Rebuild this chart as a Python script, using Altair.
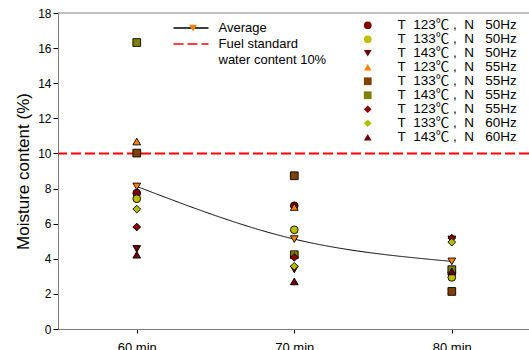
import altair as alt
import pandas as pd

times = [60, 70, 80]
temps = [123, 133, 143, 123, 133, 143, 123, 133, 143]
freqs = [50, 50, 50, 55, 55, 55, 55, 60, 60]
shapes = ["circle", "circle", "triangle-down", "triangle-up", "square", "square",
          "diamond", "diamond", "triangle-up"]
colors = ["#800000", "#bfbf00", "#6e0000", "#ff8000", "#804000", "#808000",
          "#8b0000", "#b4bf00", "#700000"]
v60 = [7.74, 7.42, 4.56, 10.68, 10.02, 16.32, 5.81, 6.83, 4.23]
v70 = [7.02, 5.65, 3.40, 6.95, 8.73, 4.23, 4.08, 3.57, 2.71]
v80 = [3.20, 2.94, 5.10, 3.30, 2.14, 3.38, 5.18, 4.95, 3.28]
average = [8.12, 5.12, 3.85]
standard = 10
kinds = ["Average", "Fuel standard", "water content 10%"]

NB = "\u00a0"
labels = []
for i, (t, f) in enumerate(zip(temps, freqs)):
    s = f"T{NB}{NB}{t}℃{NB},{NB}{NB}N{NB}{NB}{NB}{f}Hz"
    while s in labels:
        s += "\u200b"
    labels.append(s)

rows = []
for i, lab in enumerate(labels):
    for t, v in zip(times, [v60[i], v70[i], v80[i]]):
        rows.append({"time": t, "value": v, "series": lab})
pts_df = pd.DataFrame(rows)
avg_df = pd.DataFrame({"time": times, "value": average, "kind": "Average", "avgkind": "Average"})
rule_df = pd.DataFrame({"value": [standard], "kind": ["Fuel standard"]})
top_df = pd.DataFrame({"value": [18]})

FONT = "Liberation Sans, Arial, Noto Sans CJK KR"
MSIZE = 60
MSW = 0.9

x = alt.X("time:Q", scale=alt.Scale(domain=[55, 84.9], nice=False, zero=False),
          axis=alt.Axis(values=times, labelExpr="datum.value + ' min'", title=None,
                        tickSize=4, labelFontSize=13, labelPadding=8))
y = alt.Y("value:Q", scale=alt.Scale(domain=[0, 18], nice=False),
          axis=alt.Axis(values=list(range(0, 19, 2)), title="Moisture content (%)",
                        tickSize=5, labelFontSize=12, labelPadding=2,
                        titleFontSize=17, titleFontWeight="normal", titlePadding=5))

series_legend = alt.Legend(orient="none", legendX=303, legendY=5.5, title=None,
                           labelFontSize=13.5, labelFont=FONT, rowPadding=-1.25,
                           labelOffset=23, symbolSize=MSIZE, symbolStrokeColor="black",
                           symbolStrokeWidth=MSW, padding=0, labelLimit=300,
                           symbolOpacity=1)

points = alt.Chart(pts_df).mark_point(filled=True, size=MSIZE, stroke="black",
                                      strokeWidth=MSW, opacity=1).encode(
    x=x, y=y,
    fill=alt.Fill("series:N", scale=alt.Scale(domain=labels, range=colors),
                  legend=series_legend),
    shape=alt.Shape("series:N", scale=alt.Scale(domain=labels, range=shapes),
                    legend=series_legend),
)

line_legend = alt.Legend(orient="none", legendX=126.5, legendY=8.5, title=None,
                         labelFontSize=13, labelFont=FONT, rowPadding=2,
                         labelOffset=21, symbolSize=49, symbolType="M-5,0H5",
                         symbolStrokeWidth=1.5, padding=0, labelLimit=300)
stroke_enc = alt.Stroke("kind:N", scale=alt.Scale(domain=kinds, range=["black", "#ff0000", "rgba(0,0,0,0)"]),
                        legend=line_legend)
dash_enc = alt.StrokeDash("kind:N", scale=alt.Scale(domain=kinds, range=[[1, 0], [10, 4], [1, 0]]),
                          legend=line_legend)

line = alt.Chart(avg_df).mark_line(interpolate="monotone", strokeWidth=1).encode(
    x=x, y=y, stroke=stroke_enc, strokeDash=dash_enc)

rule = alt.Chart(rule_df).mark_rule(strokeWidth=2).encode(
    y=y, stroke=stroke_enc, strokeDash=dash_enc)

avg_pts = alt.Chart(avg_df).mark_point(filled=True, shape="triangle-down", fill="#ff8000",
                                       stroke="black", strokeWidth=MSW, opacity=1).encode(
    x=x, y=y,
    size=alt.Size("avgkind:O", scale=alt.Scale(domain=["Average"], range=[MSIZE, MSIZE]),
                  legend=alt.Legend(orient="none", legendX=130.5, legendY=10.5, title=None,
                                    labelExpr="''", labelFontSize=6, symbolType="triangle-down",
                                    symbolFillColor="#ff8000", symbolStrokeColor="black",
                                    symbolStrokeWidth=MSW, padding=0, symbolOpacity=1)),
)

top = alt.Chart(top_df).mark_rule(color="#808080", strokeWidth=1).encode(y=y)

chart = alt.layer(top, rule, points, line, avg_pts).resolve_scale(
    size="independent"
).properties(
    width=471, height=316,
    autosize=alt.AutoSizeParams(type="none"),
    padding={"left": 58, "top": 13, "right": 0, "bottom": 21},
).configure_axis(
    labelFont=FONT, titleFont=FONT, labelColor="black", titleColor="black",
    domainColor="#808080", tickColor="black", grid=False,
).configure_view(stroke=None).configure_legend(labelColor="black")

chart.save("out.html", embed_options={"renderer": "svg", "actions": False})
